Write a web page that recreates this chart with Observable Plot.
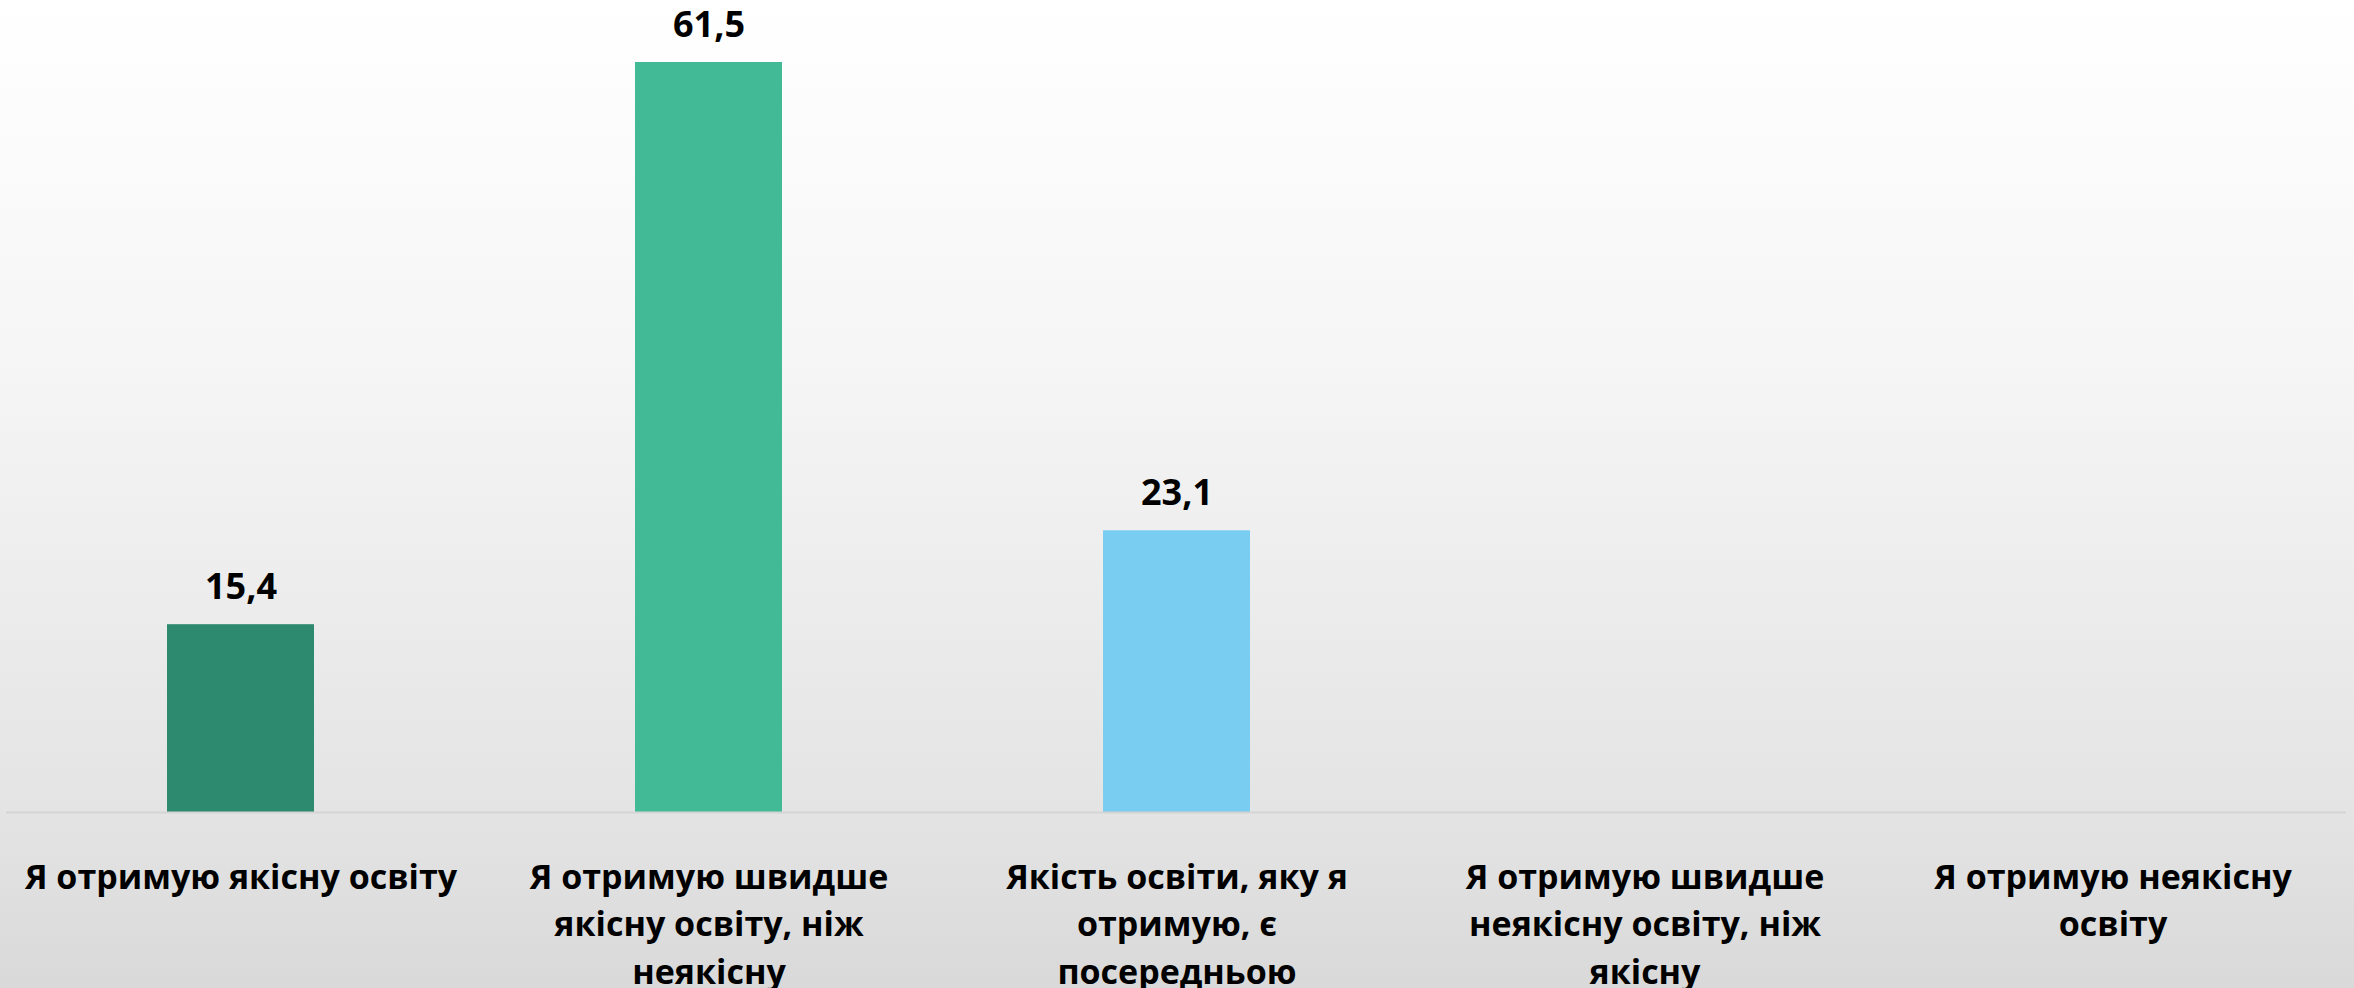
<!DOCTYPE html>
<html>
<head>
<meta charset="utf-8">
<script src="https://cdn.jsdelivr.net/npm/d3@7"></script>
<script src="https://cdn.jsdelivr.net/npm/@observablehq/plot@0.6"></script>
<style>
  html, body { margin: 0; padding: 0; background: #ffffff; }
  #chart { background: linear-gradient(to bottom, #ffffff 0%, #f6f6f6 35%, #e4e4e4 82%, #d9d9d9 100%); width: 2354px; height: 988px; }
  #chart svg { display: block; }
</style>
</head>
<body>
<div id="chart"></div>
<script>
const categories = [
  "Я отримую якісну освіту",
  "Я отримую швидше якісну освіту, ніж неякісну",
  "Якість освіти, яку я отримую, є посередньою",
  "Я отримую швидше неякісну освіту, ніж якісну",
  "Я отримую неякісну освіту"
];
const tickLabels = [
  "Я отримую якісну освіту",
  "Я отримую швидше\nякісну освіту, ніж\nнеякісну",
  "Якість освіти, яку я\nотримую, є\nпосередньою",
  "Я отримую швидше\nнеякісну освіту, ніж\nякісну",
  "Я отримую неякісну\nосвіту"
];
const values = [15.4, 61.5, 23.1, null, null];
const colors = ["#2e8a6e", "#42ba96", "#78cdf1", "#999999", "#999999"];

const data = categories.map((c, i) => ({cat: c, value: values[i], label: tickLabels[i], color: colors[i]}));
const barData = data.filter(d => d.value != null);
const fmt = v => v.toFixed(1).replace(".", ",");

const chart = Plot.plot({
  width: 2354,
  height: 988,
  marginTop: 62,
  marginBottom: 176,
  marginLeft: 6,
  marginRight: 8,
  style: {fontFamily: "'Open Sans', sans-serif", background: "none", overflow: "visible"},
  x: {domain: categories, paddingInner: 0.686, paddingOuter: 0.343, axis: null},
  y: {domain: [0, 61.5], axis: null},
  marks: [
    Plot.barY(barData, {x: "cat", y: "value", fill: "color"}),
    Plot.ruleY([0], {stroke: "#d4d4d4", strokeWidth: 2}),
    Plot.text(barData, {x: "cat", y: "value", text: d => fmt(d.value), lineAnchor: "bottom", dy: -26, fontSize: 36, fontWeight: "bold", fill: "#000"}),
    Plot.text(data, {x: "cat", y: () => 0, text: "label", lineAnchor: "top", dy: 42, fontSize: 34, fontWeight: "bold", lineHeight: 1.41, fill: "#000"})
  ]
});
document.getElementById("chart").appendChild(chart);
</script>
</body>
</html>
